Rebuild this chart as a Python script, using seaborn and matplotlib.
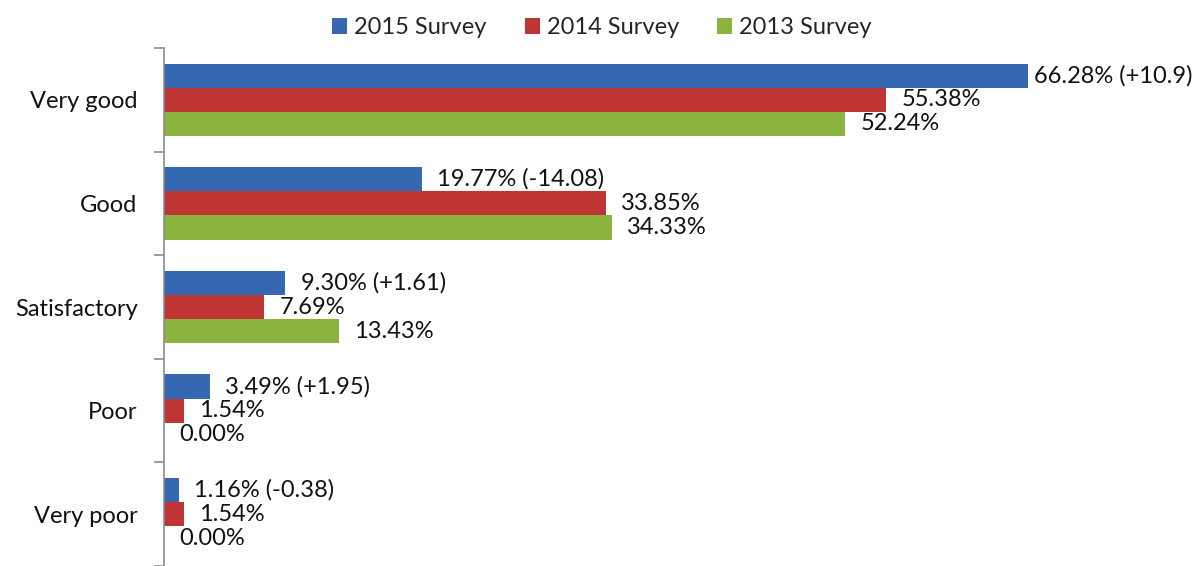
import numpy as np
import pandas as pd
import matplotlib
matplotlib.use("Agg")
import matplotlib.pyplot as plt
import seaborn as sns
from matplotlib.patches import Patch

# Datos
categories = ["Very good", "Good", "Satisfactory", "Poor", "Very poor"]
surveys = ["2015 Survey", "2014 Survey", "2013 Survey"]
values_2015 = [66.28, 19.77, 9.30, 3.49, 1.16]
values_2014 = [55.38, 33.85, 7.69, 1.54, 1.54]
values_2013 = [52.24, 34.33, 13.43, 0.00, 0.00]
change_2015 = ["+10.9", "-14.08", "+1.61", "+1.95", "-0.38"]

colors = ["#3568B0", "#BE3533", "#8AB43F"]

df = pd.DataFrame({
    "category": categories * 3,
    "survey": [s for s in surveys for _ in categories],
    "value": values_2015 + values_2014 + values_2013,
})

sns.set_theme(style="white")
plt.rcParams["font.family"] = ["Lato", "DejaVu Sans"]
FS = 17

fig = plt.figure(figsize=(12.04, 5.66), dpi=100)
ax = fig.add_axes([164 / 1204, 0.0, (1077 - 164) / 1204, 1 - 48 / 566])

sns.barplot(data=df, y="category", x="value", hue="survey", order=categories,
            hue_order=surveys, palette=colors, orient="h", width=0.7,
            saturation=1, linewidth=0, ax=ax, legend=False)

ax.set_xlim(0, 70)
ax.set_ylim(4.5, -0.5)
ax.set_xlabel("")
ax.set_ylabel("")
ax.set_xticks([])

# etiquetas de categorías + marcas entre grupos
ax.tick_params(axis="y", which="major", length=0, pad=19, labelsize=FS, labelcolor="#111111")
ax.set_yticks(np.arange(-0.5, 5.0, 1.0), minor=True)
ax.tick_params(axis="y", which="minor", left=True, length=7, width=1.2, color="#8c8c8c", direction="out")

for side in ["top", "right", "bottom"]:
    ax.spines[side].set_visible(False)
ax.spines["left"].set_color("#8c8c8c")
ax.spines["left"].set_linewidth(1.2)

# etiquetas de datos
for container, survey in zip(ax.containers, surveys):
    for i, bar in enumerate(container):
        val = bar.get_width()
        text = f"{val:.2f}%"
        if survey == "2015 Survey":
            text += f" ({change_2015[i]})"
        off = 4 if val > 60 else 11
        ax.annotate(text, (val, bar.get_y() + bar.get_height() / 2),
                    xytext=(off, 0), textcoords="offset points",
                    ha="left", va="center", fontsize=FS, color="#111111",
                    annotation_clip=False)

handles = [Patch(facecolor=c, edgecolor="none") for c in colors]
fig.legend(handles, surveys, loc="upper center", bbox_to_anchor=(0.5, 0.995),
           ncol=3, frameon=False, fontsize=FS, handlelength=0.65, handleheight=0.65,
           handletextpad=0.3, columnspacing=1.6, borderaxespad=0.2)

fig.savefig("out.png", dpi=100)
